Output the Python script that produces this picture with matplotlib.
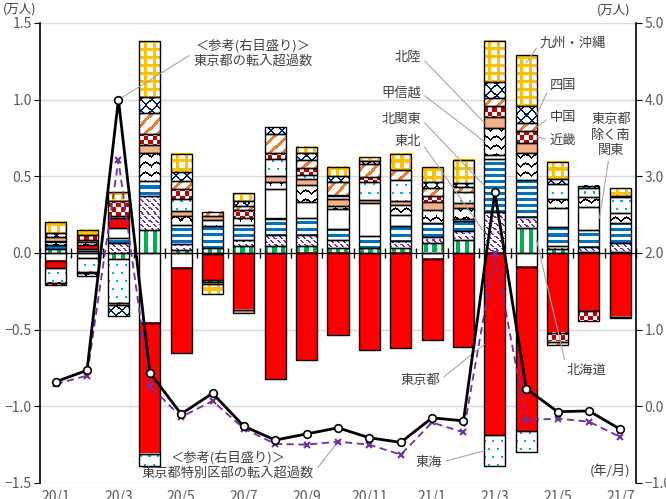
import numpy as np
import matplotlib.pyplot as plt
from matplotlib.colors import to_rgb

plt.rcParams['font.family'] = ['Noto Sans CJK JP', 'DejaVu Sans']

W_PX, H_PX = 666, 499

months = ['20/1', '20/2', '20/3', '20/4', '20/5', '20/6', '20/7', '20/8', '20/9', '20/10',
          '20/11', '20/12', '21/1', '21/2', '21/3', '21/4', '21/5', '21/6', '21/7']

# 地域別の内訳（左軸, 万人）
hokkaido = [0.025, 0.01, -0.04, 0.15, 0.02, 0.03, 0.045, 0.045, 0.045, 0.035,
            0.035, 0.035, 0.063, 0.083, 0.0, 0.16, 0.024, 0.008, 0.009]
tohoku = [0.0, 0.0, 0.065, 0.222, 0.04, 0.0, 0.04, 0.07, 0.07, 0.05,
          0.0, 0.04, 0.04, 0.059, 0.27, 0.077, 0.022, 0.028, 0.058]
kita_kanto = [0.03, 0.015, 0.03, 0.098, 0.12, 0.145, 0.095, 0.11, 0.115, 0.07,
              0.075, 0.1, 0.09, 0.065, 0.34, 0.24, 0.124, 0.117, 0.13]
minami_kanto = [-0.05, -0.035, 0.07, -0.455, -0.095, -0.005, 0.0, 0.19, 0.105, 0.135,
                0.215, 0.07, -0.04, 0.013, 0.03, -0.09, 0.126, 0.148, 0.0]
tokyo_to = [-0.05, 0.03, 0.065, -0.855, -0.555, -0.17, -0.37, -0.82, -0.70, -0.535,
            -0.63, -0.62, -0.53, -0.61, -1.19, -1.07, -0.52, -0.38, -0.415]
koshinetsu = [0.02, 0.015, 0.0, 0.184, 0.06, 0.04, 0.05, 0.05, 0.11, 0.015,
              0.0, 0.065, 0.09, 0.076, 0.175, 0.175, 0.056, 0.061, 0.065]
hokuriku = [0.03, 0.015, 0.01, 0.05, 0.035, 0.025, -0.02, 0.035, 0.035, 0.045,
            0.02, 0.03, 0.05, 0.03, 0.07, 0.065, 0.0, 0.0, -0.012]
tokai = [-0.095, -0.087, -0.285, -0.08, 0.075, 0.0, 0.0, 0.11, 0.03, 0.025,
         0.12, 0.135, 0.0, 0.07, -0.2, -0.135, 0.1, 0.06, 0.1]
kinki = [-0.015, 0.03, 0.1, 0.07, 0.07, -0.012, 0.05, 0.045, 0.045, 0.0,
         0.03, 0.0, 0.04, 0.0, 0.075, 0.08, -0.06, -0.065, 0.0]
chugoku = [0.0, -0.011, -0.015, 0.141, 0.05, 0.03, 0.025, 0.12, 0.05, 0.09,
           0.085, 0.065, 0.05, 0.033, 0.05, 0.048, -0.02, 0.0, 0.01]
shikoku = [0.025, -0.017, -0.07, 0.105, 0.055, -0.013, 0.035, 0.045, 0.045, 0.035,
           0.02, 0.0, 0.04, 0.026, 0.105, 0.115, 0.03, 0.015, 0.0]
kyushu = [0.075, 0.035, 0.055, 0.363, 0.12, -0.067, 0.05, 0.0, 0.04, 0.06,
          0.025, 0.105, 0.095, 0.152, 0.27, 0.33, 0.114, 0.0, 0.05]

# 参考（右軸, 万人）
tokyo_line = [0.32, 0.47, 4.0, 0.44, -0.10, 0.17, -0.26, -0.44, -0.36, -0.28,
              -0.41, -0.47, -0.15, -0.19, 2.79, 0.23, -0.07, -0.06, -0.30]
wards_line = [0.29, 0.40, 3.21, 0.27, -0.14, 0.07, -0.29, -0.49, -0.50, -0.46,
              -0.50, -0.63, -0.21, -0.34, 2.0, -0.18, -0.16, -0.20, -0.40]


def rgb255(color):
    return (np.array(to_rgb(color)) * 255).astype(np.uint8)


def painter(color, mask_fn=None, bg='#FFFFFF'):
    fg, back = rgb255(color), rgb255(bg)

    def paint(c, r):
        img = np.empty(c.shape + (3,), np.uint8)
        img[:] = back
        mask = np.ones(c.shape, bool) if mask_fn is None else mask_fn(c, r)
        img[mask] = fg
        return img
    return paint


def zigzag(c, r):
    tri = np.round(np.abs((c % 10) - 5) * 0.7)
    return np.mod(r - tri, 9) < 2


def dots(c, r):
    shift = ((r // 8) % 2) * 4
    return (((c + shift) % 8) < 2) & ((r % 8) < 2)


styles = [
    ('北海道', hokkaido, painter('#00B050', lambda c, r: (c % 8) < 4)),
    ('東北', tohoku, painter('#7030A0', lambda c, r: ((c - r) % 6 < 2) & (r % 4 != 3))),
    ('北関東', kita_kanto, painter('#0070C0', lambda c, r: (r % 6) < 3)),
    ('東京都除く南関東', minami_kanto, painter('#FFFFFF')),
    ('東京都', tokyo_to, painter('#FF0000')),
    ('甲信越', koshinetsu, painter('#000000', zigzag)),
    ('北陸', hokuriku, painter('#F4B183')),
    ('東海', tokai, painter('#00B0F0', dots)),
    ('近畿', kinki, painter('#C00000', lambda c, r: ((c // 4) + (r // 4)) % 2 == 0)),
    ('中国', chugoku, painter('#ED7D31', lambda c, r: (c + r) % 12 < 4)),
    ('四国', shikoku, painter('#002060', lambda c, r: ((c + r) % 10 < 2) | ((c - r) % 10 < 2))),
    ('九州・沖縄', kyushu, painter('#FFC000', lambda c, r: (c % 8 < 3) | (r % 8 < 3))),
]

fig = plt.figure(figsize=(W_PX / 100, H_PX / 100), dpi=100)
ax = fig.add_axes([40 / W_PX, 16 / H_PX, 596 / W_PX, 460 / H_PX])
n = len(months)
x = np.arange(n)
width = 0.67
ax.set_xlim(-0.5, n - 0.5)
ax.set_ylim(-1.5, 1.5)


def fill_segment(x0, x1, y0, y1, paint):
    (X0, Y0), (X1, Y1) = ax.transData.transform([(x0, y0), (x1, y1)])
    cols = np.arange(int(round(X0)), int(round(X1)))
    rows = np.arange(int(round(H_PX - Y1)), int(round(H_PX - Y0)))
    if len(cols) == 0 or len(rows) == 0:
        return
    c, r = np.meshgrid(cols, rows)
    ax.imshow(paint(c, r), extent=(x0, x1, y0, y1), origin='upper',
              interpolation='nearest', aspect='auto', zorder=2)


segments = {}
pos_base = np.zeros(n)
neg_base = np.zeros(n)
for name, vals, paint in styles:
    vals = np.array(vals)
    bottoms = np.where(vals >= 0, pos_base, neg_base)
    nz = vals != 0
    ax.bar(x[nz], vals[nz], width, bottom=bottoms[nz], facecolor='none',
           edgecolor='black', linewidth=1.0, zorder=3)
    for i in np.where(nz)[0]:
        lo, hi = sorted((bottoms[i], bottoms[i] + vals[i]))
        segments[(name, i)] = (lo, hi)
        fill_segment(i - width / 2, i + width / 2, lo, hi, paint)
    pos_base += np.clip(vals, 0, None)
    neg_base += np.clip(vals, None, 0)
ax.set_xlim(-0.5, n - 0.5)
ax.set_ylim(-1.5, 1.5)

# axes styling
grey = '#595959'
ax.spines['top'].set_visible(False)
ax.spines['right'].set_visible(False)
ax.spines['bottom'].set_position(('data', 0))
ax.spines['left'].set_linewidth(1.2)
ax.set_xticks(np.arange(-0.5, n, 1))
ax.tick_params(axis='x', direction='inout', length=7, width=1, labelbottom=False)
yt = np.arange(-1.5, 1.51, 0.5)
ax.set_yticks(yt)
ax.set_yticklabels([f'{v:.1f}'.replace('-', '−') for v in yt])
ax.tick_params(axis='y', direction='out', length=4, labelsize=10, labelcolor=grey, pad=2)
ax.yaxis.grid(True, color='#D9D9D9', linewidth=1)
ax.set_axisbelow(True)

for i in range(0, n, 2):
    ax.annotate(months[i], xy=(i, -1.5), xytext=(0, -5), textcoords='offset points',
                ha='center', va='top', fontsize=10, color=grey, annotation_clip=False)

ax2 = ax.twinx()
ax2.set_ylim(-1, 5)
for s in ('top', 'bottom', 'left'):
    ax2.spines[s].set_visible(False)
ax2.spines['right'].set_linewidth(1.2)
rt = np.arange(-1, 5.1, 1)
ax2.set_yticks(rt)
ax2.set_yticklabels([f'{v:.1f}'.replace('-', '−') for v in rt])
ax2.tick_params(axis='y', direction='out', length=4, labelsize=10, labelcolor=grey, pad=2)

ax2.plot(x, wards_line, color='#7030A0', lw=1.3, ls=(0, (4, 2.5)), marker='x',
         ms=5, mew=1.5, zorder=4)
ax2.plot(x, tokyo_line, color='black', lw=2, marker='o', mfc='white', mec='black',
         ms=5.5, mew=1.2, zorder=5)

# annotations
txt = '#404040'
lead = dict(arrowstyle='-', color='#A6A6A6', lw=0.8, shrinkA=1, shrinkB=0)


def mid(name, i):
    lo, hi = segments[(name, i)]
    return (lo + hi) / 2


def label(axis, text, xy, pos, ha, rel, va='center', **kw):
    axis.annotate(text, xy=xy, xytext=(pos[0], H_PX - pos[1]), textcoords='figure pixels',
                  ha=ha, va=va, fontsize=9.5, color=txt,
                  arrowprops=dict(lead, relpos=rel), annotation_clip=False, **kw)


left_edge = 14 - width / 2
for name, py in [('北陸', 57), ('甲信越', 93), ('北関東', 119), ('東北', 142)]:
    label(ax, name, (left_edge, mid(name, 14)), (421, py), 'right', (1, 0.5))
label(ax, '東京都', (left_edge, mid('東京都', 14)), (440, 380), 'right', (1, 0.5))
label(ax, '東海', (left_edge, mid('東海', 14)), (442, 462), 'right', (1, 0.5))

right_edge = 15 + width / 2
label(ax, '九州・沖縄', (15, segments[('九州・沖縄', 15)][1] - 0.05), (540, 43), 'left', (0, 0.5))
for name, py in [('四国', 86), ('中国', 117), ('近畿', 140)]:
    label(ax, name, (right_edge, mid(name, 15)), (550, py), 'left', (0, 0.5))
label(ax, '北海道', (right_edge, mid('北海道', 15)), (567, 370), 'left', (0, 0.5))
label(ax, '東京都\n除く南\n関東', (17 + width / 2, mid('東京都除く南関東', 17)), (611, 135),
      'center', (0.45, 0), linespacing=1.25)

label(ax2, '＜参考(右目盛り)＞\n東京都の転入超過数', (2, tokyo_line[2]), (253, 53),
      'center', (0, 0.5), linespacing=1.25)
label(ax2, '＜参考(右目盛り)＞\n東京都特別区部の転入超過数', (9, wards_line[9]), (228, 465),
      'center', (1, 0.25), linespacing=1.25)

fig.text(3 / W_PX, 1 - 9 / H_PX, '(万人)', ha='left', va='center', fontsize=9, color=txt)
fig.text(630 / W_PX, 1 - 10 / H_PX, '(万人)', ha='right', va='center', fontsize=9, color=txt)
fig.text(630 / W_PX, 1 - 471 / H_PX, '(年/月)', ha='right', va='center', fontsize=9.5, color=txt)

fig.savefig('out.png', dpi=100)
